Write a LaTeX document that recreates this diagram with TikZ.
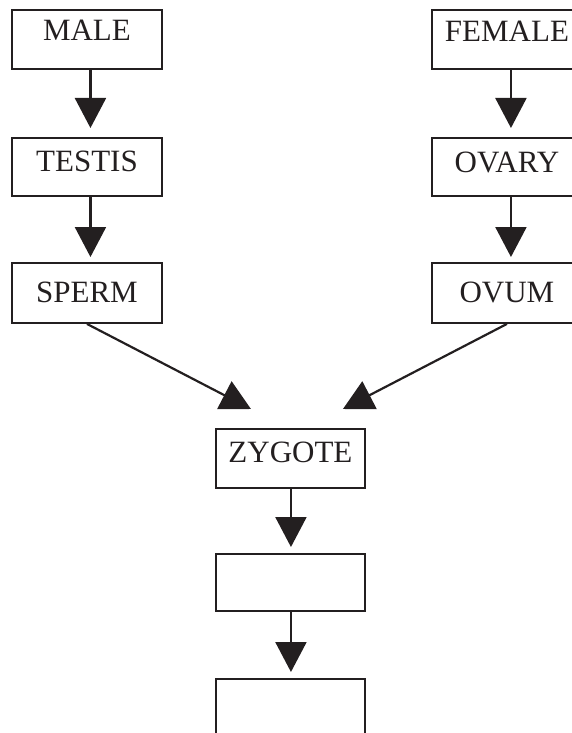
\documentclass[tikz,border=0pt]{standalone}
\usepackage{fontspec}
\setmainfont{Liberation Serif}
\usetikzlibrary{arrows.meta}
\definecolor{ink}{HTML}{231F20}
\begin{document}
\begin{tikzpicture}[x=1pt,y=-1pt,
  stagebox/.style 2 args={draw=ink, line width=1.9pt, inner sep=0pt, anchor=north west,
     minimum width=150pt, text height=#1pt, text depth=#2pt, text=ink,
     font=\fontsize{31}{34}\selectfont},
  arr/.style={draw=ink, line width=2.2pt, -{Triangle[length=30pt,width=31pt]}}]
\useasboundingbox (0,0) rectangle (572,733);
\clip (0,0) rectangle (572,733);
% left column
\node[stagebox={31}{28}] (male)   at (11,9)   {MALE};
\node[stagebox={34}{24}] (testis) at (11,137) {TESTIS};
\node[stagebox={40}{20}] (sperm)  at (11,262) {SPERM};
% right column
\node[stagebox={32}{27}] (female) at (431,9)   {FEMALE};
\node[stagebox={35}{23}] (ovary)  at (431,137) {OVARY};
\node[stagebox={40}{20}] (ovum)   at (431,262) {OVUM};
% centre column
\node[stagebox={34}{25}, minimum width=149pt] (zygote) at (215,428) {ZYGOTE};
\node[stagebox={30}{27}, minimum width=149pt] (stage5) at (215,553) {};
\node[stagebox={50}{62}, minimum width=149pt] (stage6) at (215,678) {};
% arrows
\draw[arr] ([xshift=3.5pt]male.south)   -- ([xshift=3.5pt,yshift=9pt]testis.north);
\draw[arr] ([xshift=3.5pt]testis.south) -- ([xshift=3.5pt,yshift=5pt]sperm.north);
\draw[arr] ([xshift=4pt]female.south)   -- ([xshift=4pt,yshift=9pt]ovary.north);
\draw[arr] ([xshift=4pt]ovary.south)    -- ([xshift=4pt,yshift=5pt]ovum.north);
\draw[arr] (sperm.south) -- ([xshift=-39.5pt,yshift=19pt]zygote.north);
\draw[arr] (ovum.south)  -- ([xshift=52.5pt,yshift=19pt]zygote.north);
\draw[arr] ([xshift=0.5pt]zygote.south) -- ([xshift=0.5pt,yshift=6pt]stage5.north);
\draw[arr] ([xshift=0.5pt]stage5.south) -- ([xshift=0.5pt,yshift=6pt]stage6.north);
\end{tikzpicture}
\end{document}
